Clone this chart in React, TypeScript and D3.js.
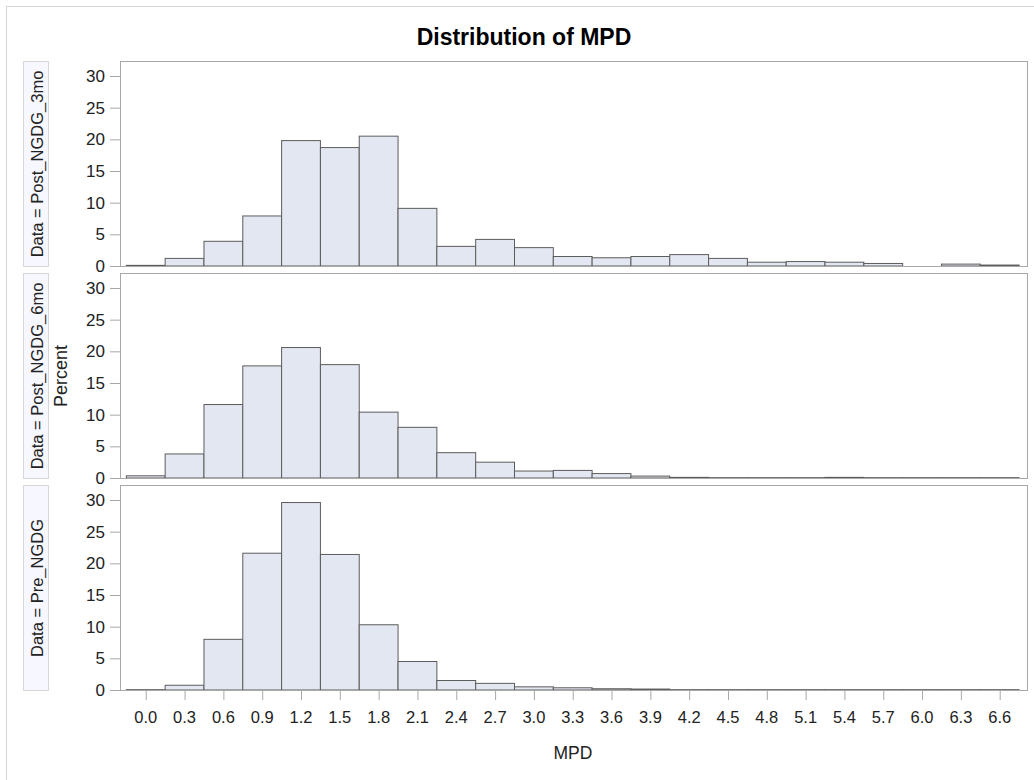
import React from "react";
import * as d3 from "d3";

const binCenters = [0.0, 0.3, 0.6, 0.9, 1.2, 1.5, 1.8, 2.1, 2.4, 2.7, 3.0, 3.3, 3.6, 3.9, 4.2, 4.5, 4.8, 5.1, 5.4, 5.7, 6.0, 6.3, 6.6];
const tickLabels = ["0.0", "0.3", "0.6", "0.9", "1.2", "1.5", "1.8", "2.1", "2.4", "2.7", "3.0", "3.3", "3.6", "3.9", "4.2", "4.5", "4.8", "5.1", "5.4", "5.7", "6.0", "6.3", "6.6"];
const yTicks = [0, 5, 10, 15, 20, 25, 30];

const panelNames = ["Post_NGDG_3mo", "Post_NGDG_6mo", "Pre_NGDG"];
const post3mo = [0.1, 1.2, 3.9, 7.9, 19.8, 18.7, 20.5, 9.1, 3.1, 4.2, 2.9, 1.5, 1.3, 1.5, 1.8, 1.2, 0.6, 0.7, 0.6, 0.4, 0, 0.3, 0.15];
const post6mo = [0.35, 3.8, 11.6, 17.7, 20.6, 17.9, 10.4, 8.0, 4.0, 2.5, 1.1, 1.2, 0.7, 0.3, 0.1, 0.05, 0.05, 0.05, 0.1, 0.05, 0.05, 0.05, 0.05];
const preNgdg = [0.05, 0.75, 8.0, 21.6, 29.6, 21.4, 10.3, 4.5, 1.5, 1.05, 0.5, 0.35, 0.2, 0.15, 0.05, 0.05, 0.05, 0.05, 0.05, 0.05, 0.05, 0.05, 0.05];
const panelValues = [post3mo, post6mo, preNgdg];

const binWidth = 0.3;
const W = 1034;
const H = 780;
const plotLeft = 120;
const plotRight = 1027;
const panelTop0 = 61;
const panelStep = 212;
const panelH = 205;

const FONT = "'Liberation Sans', Arial, sans-serif";
const FRAME = "#a8a8a8";
const BAR_FILL = "#e3e7f1";
const BAR_STROKE = "#5c5c5c";
const TEXT = "#222";

export default function App() {
  const x = d3.scaleLinear().domain([-0.199, 6.811]).range([plotLeft, plotRight]);
  const y = d3.scaleLinear().domain([0, 30 * panelH / 190]).range([panelH, 0]);

  return (
    <svg width={W} height={H} style={{ position: "absolute", left: 0, top: 0, background: "#fff" }} fontFamily={FONT}>
      <rect x={6.5} y={6.5} width={1060} height={800} fill="none" stroke="#d4d4d4" />
      <text x={524} y={45} textAnchor="middle" fontSize={23} fontWeight="bold" fill="#000">Distribution of MPD</text>
      <text transform={`translate(67,376) rotate(-90)`} textAnchor="middle" fontSize={18} fill={TEXT}>Percent</text>
      {panelValues.map((vals, pi) => {
        const top = panelTop0 + pi * panelStep;
        return (
          <g key={pi} transform={`translate(0,${top})`}>
            <rect x={23.5} y={0.5} width={25} height={panelH} fill="#f7f7ff" stroke="#d6d6d6" />
            <text transform={`translate(43,${panelH / 2 + 0.5}) rotate(-90)`} textAnchor="middle" fontSize={16.5} fill={TEXT}>{`Data = ${panelNames[pi]}`}</text>
            {vals.map((v, i) => {
              const x0 = x(binCenters[i] - binWidth / 2);
              const x1 = x(binCenters[i] + binWidth / 2);
              return (
                <rect key={i} x={x0} y={y(v)} width={x1 - x0} height={Math.max(0, y(0) - y(v))} fill={BAR_FILL} stroke={BAR_STROKE} strokeWidth={1} />
              );
            })}
            <rect x={plotLeft + 0.5} y={0.5} width={plotRight - plotLeft} height={panelH} fill="none" stroke={FRAME} strokeWidth={1} />
            {yTicks.map((t) => (
              <g key={t} transform={`translate(0,${y(t)})`}>
                <line x1={110} x2={plotLeft} y1={0.5} y2={0.5} stroke={FRAME} />
                <text x={105} y={0} dy="0.36em" textAnchor="end" fontSize={17} fill={TEXT}>{t}</text>
              </g>
            ))}
          </g>
        );
      })}
      {binCenters.map((c, i) => (
        <g key={i} transform={`translate(${x(c)},0)`}>
          <line x1={0.5} x2={0.5} y1={690} y2={700} stroke={FRAME} />
          <text x={0} y={723} textAnchor="middle" fontSize={16.5} fill={TEXT}>{tickLabels[i]}</text>
        </g>
      ))}
      <text x={573} y={759} textAnchor="middle" fontSize={17.5} fill={TEXT}>MPD</text>
    </svg>
  );
}
